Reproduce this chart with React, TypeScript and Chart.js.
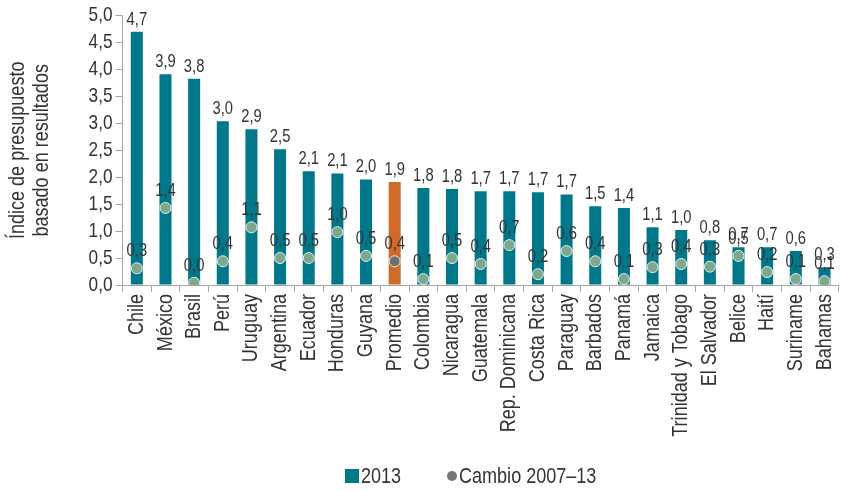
import React, { useEffect, useRef } from 'react';
import { Chart, registerables } from 'chart.js';

Chart.register(...registerables);

const categories = [
  'Chile', 'México', 'Brasil', 'Perú', 'Uruguay', 'Argentina', 'Ecuador', 'Honduras', 'Guyana',
  'Promedio', 'Colombia', 'Nicaragua', 'Guatemala', 'Rep. Dominicana', 'Costa Rica', 'Paraguay',
  'Barbados', 'Panamá', 'Jamaica', 'Trinidad y Tobago', 'El Salvador', 'Belice', 'Haití',
  'Suriname', 'Bahamas',
];
const index2013 = [
  4.70, 3.91, 3.83, 3.04, 2.89, 2.52, 2.11, 2.07, 1.96, 1.91, 1.80, 1.78, 1.74, 1.74, 1.72, 1.68,
  1.46, 1.43, 1.07, 1.02, 0.83, 0.70, 0.70, 0.63, 0.33,
];
const change2007_13 = [
  0.31, 1.43, 0.04, 0.44, 1.07, 0.50, 0.50, 0.98, 0.54, 0.44, 0.11, 0.50, 0.39, 0.74, 0.20, 0.63,
  0.44, 0.11, 0.33, 0.39, 0.34, 0.54, 0.24, 0.11, 0.07,
];
const seriesNames = ['2013', 'Cambio 2007–13'];
const yTitle = ['Índice de presupuesto', 'basado en resultados'];
const highlight = 'Promedio';

const FONT = '"Liberation Sans", Arial, sans-serif';
const NARROW = 0.82; // horizontal text compression, imitating a narrow typeface
const TEAL = '#00788A';
const ORANGE = '#D06A28';
const DOT = '#7EA88E';
const DOT_HL = '#6E6E6E';
const TEXT = '#333333';
const AXIS = '#A6A6A6';

const fmt = (v: number) => v.toFixed(1).replace('.', ',');

function makeNarrow(ctx: any) {
  const orig = CanvasRenderingContext2D.prototype.fillText;
  ctx.fillText = function (text: string, x: number, y: number, maxWidth?: number) {
    this.save();
    this.translate(x, y);
    this.scale(NARROW, 1);
    if (maxWidth !== undefined && maxWidth !== null) orig.call(this, text, 0, 0, maxWidth / NARROW);
    else orig.call(this, text, 0, 0);
    this.restore();
  };
}

const labelsPlugin = {
  id: 'valueLabels',
  afterDatasetsDraw(chart: any) {
    const ctx = chart.ctx;
    ctx.save();
    ctx.font = `18px ${FONT}`;
    ctx.fillStyle = TEXT;
    ctx.textAlign = 'center';
    ctx.textBaseline = 'bottom';
    chart.data.datasets.forEach((ds: any, di: number) => {
      const meta = chart.getDatasetMeta(di);
      meta.data.forEach((el: any, i: number) => {
        const v = ds.data[i];
        const off = di === 0 ? 3 : 8;
        ctx.fillText(fmt(v), el.x, el.y - off);
      });
    });
    ctx.restore();
  },
};

const legendPlugin = {
  id: 'customLegend',
  afterDraw(chart: any) {
    const ctx = chart.ctx;
    ctx.save();
    ctx.font = `22px ${FONT}`;
    ctx.textBaseline = 'middle';
    ctx.textAlign = 'left';
    const cy = 476;
    let x = 345;
    ctx.fillStyle = TEAL;
    ctx.fillRect(x, cy - 7, 14, 14);
    ctx.fillStyle = TEXT;
    ctx.fillText(seriesNames[0], x + 16, cy + 1);
    x = 452;
    ctx.fillStyle = '#777777';
    ctx.beginPath();
    ctx.arc(x, cy, 5, 0, Math.PI * 2);
    ctx.fill();
    ctx.fillStyle = TEXT;
    ctx.fillText(seriesNames[1], x + 7, cy + 1);
    ctx.restore();
  },
};

export default function App() {
  const ref = useRef<HTMLCanvasElement | null>(null);
  useEffect(() => {
    if (!ref.current) return;
    const ctx2d = ref.current.getContext('2d');
    makeNarrow(ctx2d);
    const chart = new Chart(ref.current, {
      type: 'bar',
      data: {
        labels: categories,
        datasets: [
          {
            type: 'bar',
            label: seriesNames[0],
            data: index2013,
            backgroundColor: categories.map((c) => (c === highlight ? ORANGE : TEAL)),
            borderWidth: 0,
            barPercentage: 0.42,
            categoryPercentage: 1,
            order: 2,
          },
          {
            type: 'line',
            label: seriesNames[1],
            data: change2007_13,
            showLine: false,
            pointRadius: 5.5,
            pointHoverRadius: 5.5,
            pointBackgroundColor: categories.map((c) => (c === highlight ? DOT_HL : DOT)),
            pointBorderColor: '#E6EEE8',
            pointBorderWidth: 1,
            order: 1,
          } as any,
        ],
      },
      options: {
        animation: false,
        responsive: false,
        layout: { padding: { left: 0, right: 4.5, top: 15, bottom: 45 } },
        plugins: { legend: { display: false }, tooltip: { enabled: false } },
        scales: {
          x: {
            offset: true,
            grid: {
              display: true,
              offset: true,
              drawOnChartArea: false,
              drawTicks: true,
              tickLength: 7,
              color: AXIS,
            },
            border: { display: true, color: AXIS, width: 1 },
            ticks: {
              autoSkip: false,
              maxRotation: 90,
              minRotation: 90,
              padding: 2,
              color: TEXT,
              font: { family: FONT, size: 22 },
            },
            afterFit(scale: any) {
              scale.height = 490 - 45 - 285;
            },
          },
          y: {
            min: 0,
            max: 5,
            ticks: {
              stepSize: 0.5,
              autoSkip: false,
              padding: 3,
              color: TEXT,
              font: { family: FONT, size: 21 },
              callback: (v: any) => fmt(Number(v)),
            },
            grid: {
              display: true,
              drawOnChartArea: false,
              drawTicks: true,
              tickLength: 7,
              color: AXIS,
            },
            border: { display: true, color: AXIS, width: 1 },
            title: {
              display: true,
              text: yTitle,
              color: TEXT,
              font: { family: FONT, size: 22, lineHeight: 1.1 },
              padding: { top: 6, bottom: 0 },
            },
            afterFit(scale: any) {
              scale.width = 122.5;
            },
          },
        },
      },
      plugins: [labelsPlugin, legendPlugin],
    });
    return () => chart.destroy();
  }, []);
  return (
    <div style={{ position: 'fixed', left: 0, top: 0, width: 853, height: 490, background: '#fff' }}>
      <canvas ref={ref} width={853} height={490} style={{ display: 'block' }} />
    </div>
  );
}
